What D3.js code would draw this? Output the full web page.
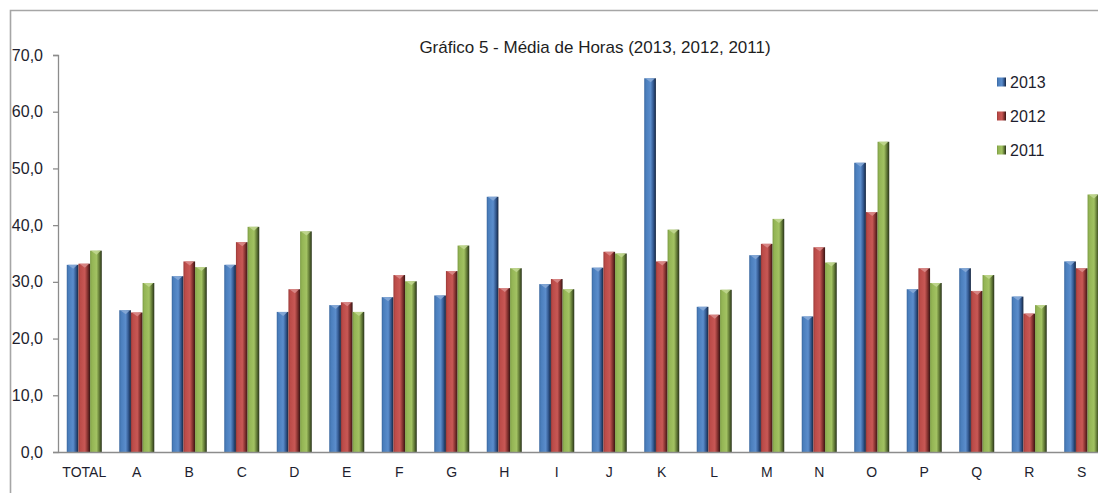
<!DOCTYPE html>
<html>
<head>
<meta charset="utf-8">
<script src="https://cdn.jsdelivr.net/npm/d3@7"></script>
<style>
  html, body { margin: 0; padding: 0; background: #fff; overflow: hidden; }
  svg { display: block; }
</style>
</head>
<body>
<svg id="chart" width="1098" height="493"></svg>
<script>
const categories = ["TOTAL","A","B","C","D","E","F","G","H","I","J","K","L","M","N","O","P","Q","R","S"];
const seriesNames = ["2013","2012","2011"];
const values2013 = [33.0,25.0,31.0,33.0,24.7,25.9,27.3,27.6,45.0,29.6,32.5,65.9,25.6,34.7,23.9,51.0,28.7,32.4,27.4,33.6];
const values2012 = [33.2,24.6,33.6,37.0,28.7,26.4,31.2,31.9,28.9,30.5,35.3,33.6,24.2,36.7,36.1,42.3,32.4,28.4,24.4,32.4];
const values2011 = [35.5,29.8,32.6,39.7,38.9,24.7,30.1,36.4,32.4,28.7,35.0,39.2,28.6,41.1,33.4,54.7,29.8,31.2,25.9,45.4];
const yTicks = [0,10,20,30,40,50,60,70];
const title = "Gráfico 5 - Média de Horas (2013, 2012, 2011)";

const seriesValues = [values2013, values2012, values2011];
const colors = [
  {base:"#4f81bd", stops:["#3a679f","#4a7ebc","#5b8dcc","#30548a","#15253e"], cap:"#86a9d6"},
  {base:"#c0504d", stops:["#9a3a38","#bb4b48","#c85855","#7e2f2d","#361413"], cap:"#d98a88"},
  {base:"#9bbb59", stops:["#7a9a42","#93b454","#a2c262","#5f7634","#28321a"], cap:"#c0d68f"}
];

const svg = d3.select("#chart");
const font = "'Liberation Sans', Arial, sans-serif";

// chart border
svg.append("path")
  .attr("d", "M10.5,493 L10.5,10.5 L1098,10.5")
  .attr("fill", "none").attr("stroke", "#a6a6a6").attr("stroke-width", 1.6);

const plotLeft = 58, plotRight = 1108, plotTop = 55, plotBottom = 452;

const x = d3.scaleBand().domain(categories).range([plotLeft, plotRight])
  .paddingInner(0.333).paddingOuter(0.167);
const xs = d3.scaleBand().domain(seriesNames).range([0, x.bandwidth()]).padding(0);
const y = d3.scaleLinear().domain([0, 70]).range([plotBottom, plotTop]);

// gradients
const defs = svg.append("defs");
colors.forEach((c, i) => {
  const g = defs.append("linearGradient").attr("id", "g" + i)
    .attr("x1", "0").attr("x2", "1").attr("y1", "0").attr("y2", "0");
  const offs = [0, 0.15, 0.55, 0.8, 1];
  offs.forEach((o, k) => g.append("stop").attr("offset", o).attr("stop-color", c.stops[k]));
});

// bars
const groups = svg.append("g").selectAll("g").data(categories).join("g")
  .attr("transform", d => `translate(${x(d)},0)`);

seriesNames.forEach((s, si) => {
  groups.append("rect")
    .attr("x", () => xs(s))
    .attr("y", (d, i) => y(seriesValues[si][i]))
    .attr("width", xs.bandwidth())
    .attr("height", (d, i) => y(0) - y(seriesValues[si][i]))
    .attr("fill", `url(#g${si})`);
  groups.append("path")
    .attr("d", (d, i) => {
      const x0 = xs(s), x1 = xs(s) + xs.bandwidth(), yt = y(seriesValues[si][i]);
      const xm = x0 + xs.bandwidth() * 0.55;
      return `M${x0+1},${yt} L${x1-1},${yt} L${xm},${yt + 4} Z`;
    })
    .attr("fill", colors[si].cap).attr("opacity", 0.9);
});

// y axis
const yAxis = d3.axisLeft(y).tickValues(yTicks).tickSize(5).tickPadding(10)
  .tickFormat(d => d3.format(".1f")(d).replace(".", ","));
const ya = svg.append("g").attr("transform", `translate(${plotLeft},0)`).call(yAxis);
ya.select(".domain").attr("stroke", "#8c8c8c").attr("stroke-width", 1.3);
ya.selectAll(".tick line").attr("stroke", "#8c8c8c").attr("stroke-width", 1.3);
ya.selectAll(".tick text").attr("font-family", font).attr("font-size", 16).attr("fill", "#1e1e2e");

// x axis
const xAxis = d3.axisBottom(x).tickSize(0).tickPadding(15);
const xa = svg.append("g").attr("transform", `translate(0,${plotBottom})`).call(xAxis);
xa.select(".domain").attr("stroke", "#8c8c8c").attr("stroke-width", 1.3);
xa.selectAll(".tick text").attr("font-family", font).attr("font-size", 14).attr("fill", "#1e1e2e");

// title
svg.append("text").attr("x", 595).attr("y", 53).attr("text-anchor", "middle")
  .attr("font-family", font).attr("font-size", 17).attr("fill", "#1e1e1e").text(title);

// legend
const legend = svg.append("g").selectAll("g").data(seriesNames).join("g")
  .attr("transform", (d, i) => `translate(997,${82 + i * 34})`);
legend.append("rect").attr("x", 0).attr("y", -4.5).attr("width", 9).attr("height", 9)
  .attr("fill", (d, i) => `url(#g${i})`);
legend.append("text").attr("x", 13).attr("y", 0).attr("dy", "0.35em")
  .attr("font-family", font).attr("font-size", 16).attr("fill", "#1e1e2e").text(d => d);
</script>
</body>
</html>
